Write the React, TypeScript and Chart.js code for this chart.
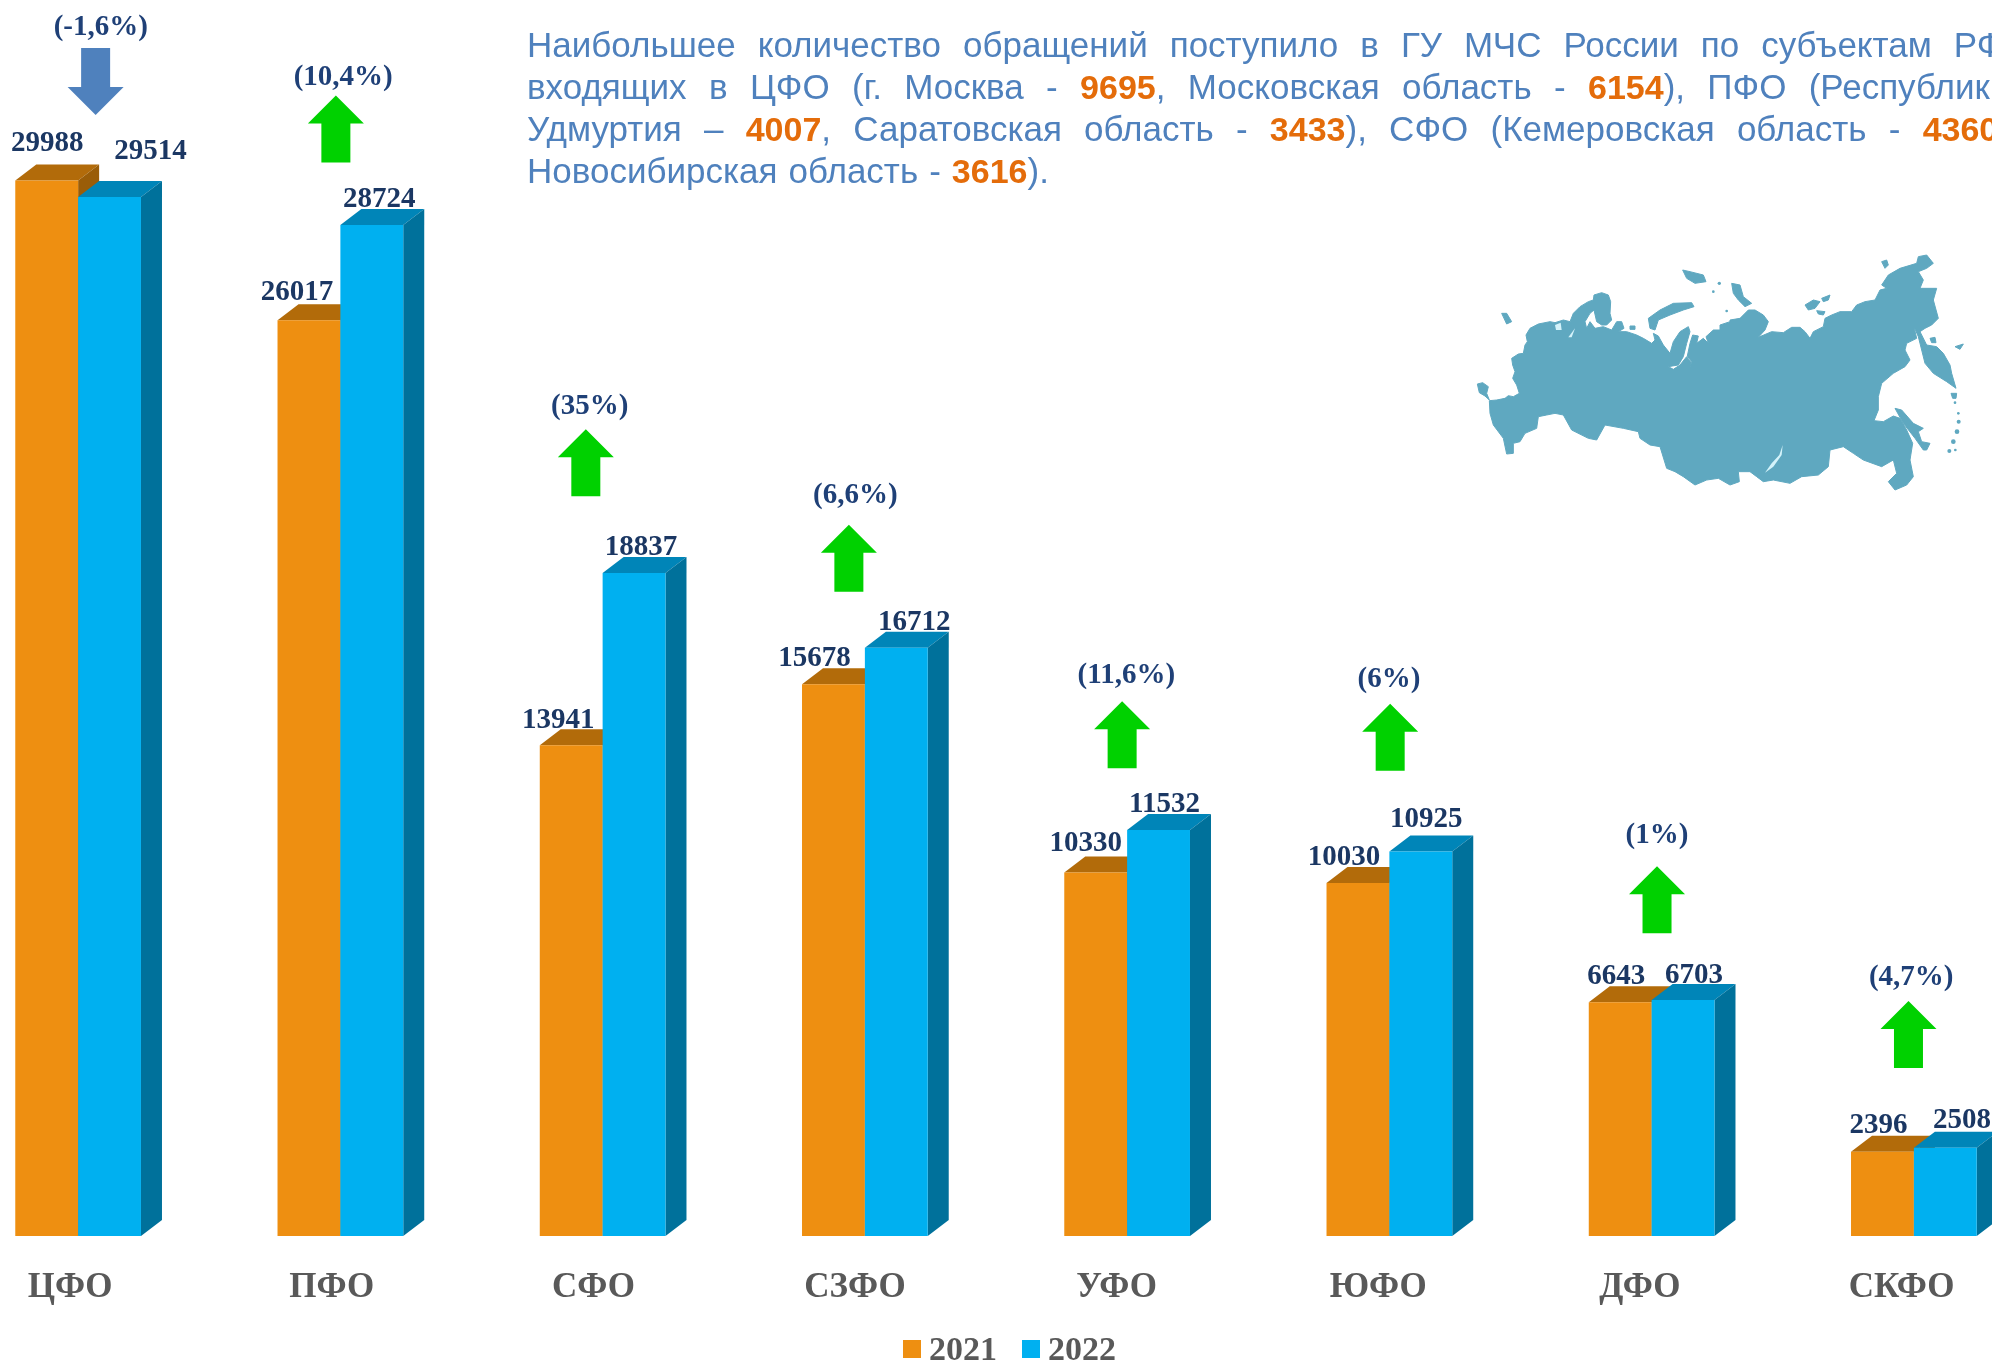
import React, { useEffect, useRef } from "react";
import { Chart, registerables } from "chart.js";

Chart.register(...registerables);

const categories = ["ЦФО", "ПФО", "СФО", "СЗФО", "УФО", "ЮФО", "ДФО", "СКФО"];
const years = ["2021", "2022"];
const values2021 = [29988, 26017, 13941, 15678, 10330, 10030, 6643, 2396];
const values2022 = [29514, 28724, 18837, 16712, 11532, 10925, 6703, 2508];
const changes = ["(-1,6%)", "(10,4%)", "(35%)", "(6,6%)", "(11,6%)", "(6%)", "(1%)", "(4,7%)"];
const directions = [-1, 1, 1, 1, 1, 1, 1, 1];

// placement offsets of the annotation texts, relative to the bars
const label2021Dx = [0.5, -12, -13, -19, -10, -14, -4, -4];
const label2021Dy = [-37, -28.1, -25, -26.1, -28.5, -25.5, -25.5, -26.2];
const label2022Dx = [41, 7.5, 7, 18, 6, 5.5, 11, 16.6];
const label2022Dy = [-46, -25.5, -25.5, -25.3, -26, -32.1, -24.5, -27.2];
const arrowDx = [17.5, -4.5, -16.8, -16, -5, 0.8, 5.4, -5.4];
const arrowDy = [-65.5, -129.3, -143.6, -123.1, -128.8, -147.7, -133.7, -146.7];
const changeDx = [22.7, 2.8, -12.9, -9.6, -0.8, -0.5, 5.4, -2.7];
const changeDy = [-153, -147.5, -166.5, -152.3, -154.6, -172, -164.6, -170.2];

const ORANGE = "#EE8F11";
const ORANGE_TOP = "#B26B0A";
const ORANGE_SIDE = "#9A5D08";
const BLUE = "#00B0F0";
const BLUE_TOP = "#0085B8";
const BLUE_SIDE = "#00719B";
const SERIF = '"Liberation Serif", serif';
const DEPTH_X = 21;
const DEPTH_Y = 16;
const TICK_DRIFT = 0.62;

const faces = [
  { top: ORANGE_TOP, side: ORANGE_SIDE },
  { top: BLUE_TOP, side: BLUE_SIDE },
];

function poly(ctx: CanvasRenderingContext2D, pts: number[][], color: string) {
  ctx.fillStyle = color;
  ctx.beginPath();
  pts.forEach((p, i) => (i ? ctx.lineTo(p[0], p[1]) : ctx.moveTo(p[0], p[1])));
  ctx.closePath();
  ctx.fill();
}

const bars3d = {
  id: "bars3d",
  beforeDatasetsDraw(chart: any) {
    const ctx: CanvasRenderingContext2D = chart.ctx;
    [0, 1].forEach((d) => {
      const meta = chart.getDatasetMeta(d);
      meta.data.forEach((bar: any) => {
        const l = bar.x - bar.width / 2;
        const r = bar.x + bar.width / 2;
        const t = bar.y;
        const b = bar.base;
        poly(ctx, [[l, t], [l + DEPTH_X, t - DEPTH_Y], [r + DEPTH_X, t - DEPTH_Y], [r, t]], faces[d].top);
        poly(ctx, [[r, t], [r + DEPTH_X, t - DEPTH_Y], [r + DEPTH_X, b - DEPTH_Y], [r, b]], faces[d].side);
      });
      meta.controller.draw();
    });
    return false;
  },
  afterDraw(chart: any) {
    const ctx: CanvasRenderingContext2D = chart.ctx;
    const y = chart.scales.y;
    ctx.save();
    ctx.textAlign = "center";
    ctx.textBaseline = "middle";
    const m0 = chart.getDatasetMeta(0).data;
    const m1 = chart.getDatasetMeta(1).data;
    categories.forEach((_, k) => {
      ctx.font = `bold 29px ${SERIF}`;
      ctx.fillStyle = "#1B3763";
      ctx.fillText(String(values2021[k]), m0[k].x + label2021Dx[k], m0[k].y + label2021Dy[k]);
      ctx.fillText(String(values2022[k]), m1[k].x + label2022Dx[k], m1[k].y + label2022Dy[k]);
      const cx = (m0[k].x + m1[k].x) / 2;
      const topY = y.getPixelForValue(Math.max(values2021[k], values2022[k]));
      ctx.fillStyle = "#1F4077";
      ctx.fillText(changes[k], cx + changeDx[k], topY + changeDy[k]);
      const tx = cx + arrowDx[k];
      const ty = topY + arrowDy[k];
      const s = directions[k]; // 1 = up, -1 = down
      poly(
        ctx,
        [
          [tx, ty],
          [tx + 28, ty + s * 28],
          [tx + 14.5, ty + s * 28],
          [tx + 14.5, ty + s * 67],
          [tx - 14.5, ty + s * 67],
          [tx - 14.5, ty + s * 28],
          [tx - 28, ty + s * 28],
        ],
        s > 0 ? "#00D100" : "#4F81BD",
      );
    });
    // legend
    ctx.textAlign = "left";
    ctx.textBaseline = "alphabetic";
    ctx.font = `bold 34px ${SERIF}`;
    const legendX = [956, 1075];
    chart.data.datasets.forEach((ds: any, i: number) => {
      ctx.fillStyle = ds.backgroundColor;
      ctx.fillRect(legendX[i], 1340, 18, 18);
      ctx.fillStyle = "#595959";
      ctx.fillText(ds.label, legendX[i] + 26, 1360);
    });
    ctx.restore();
  },
};

// silhouette of the map, in a 3x viewBox
const mapMain =
  "58,452 80,450 105,445 115,437 130,440 148,430 140,405 128,385 135,365 128,345 125,325 145,312 160,310 165,285 172,275 168,255 180,235 205,222 240,215 255,218 280,210 300,215 310,190 330,170 355,155 370,150 372,135 395,128 415,135 422,155 420,190 425,210 410,225 395,225 380,215 372,180 360,190 345,215 350,235 360,215 375,235 400,230 425,240 440,215 455,215 462,235 445,245 470,245 500,255 520,265 545,280 555,270 550,250 565,258 580,285 600,310 610,275 630,245 655,230 660,245 650,280 640,320 625,345 595,350 610,358 630,345 650,320 662,335 660,350 665,335 652,318 660,280 668,255 685,258 680,280 700,265 715,280 708,260 730,240 750,240 750,225 780,215 " +
  "780,210 810,205 835,180 855,180 880,195 895,215 885,240 865,262 905,245 940,248 965,232 990,232 1005,245 1020,265 1030,245 1060,230 1065,205 1085,195 1110,185 1145,185 1160,165 1185,155 1215,150 1230,120 1250,115 1235,105 1255,75 1290,55 1340,40 1345,20 1370,15 1390,40 1370,55 1345,65 1360,90 1350,115 1400,115 1390,150 1405,205 1385,225 1365,235 1350,245 1370,285 1400,290 1420,310 1440,345 1445,370 1458,415 1430,395 1390,370 1365,340 1355,300 1345,260 1332,230 1340,265 1310,280 1305,300 1320,330 1305,350 1270,370 1235,400 1225,440 1225,480 1212,512 1240,515 1270,498 1290,505 1310,540 1328,580 1320,630 1330,680 1310,705 1275,720 1255,695 1280,670 1270,630 1235,650 1180,630 1150,610 1120,590 1080,600 1075,650 1045,675 995,680 960,700 910,690 880,695 860,680 840,665 805,665 808,695 780,705 " +
  "745,685 710,690 675,705 640,680 615,665 590,655 570,590 540,585 510,565 505,545 460,535 405,525 380,570 355,565 305,540 280,495 255,490 230,495 205,500 200,535 165,550 150,575 130,580 130,610 110,612 100,565 70,525 60,490";
const mapIslands = [
  "22,402 38,398 55,410 50,430 58,450 45,438 28,428",
  "95,190 110,190 125,215 110,222",
  "535,205 570,180 610,160 665,158 672,170 640,180 600,195 565,210 555,240 540,235",
  "638,60 660,65 700,75 708,95 675,100 650,85",
  "480,228 495,228 495,238 480,238",
  "785,100 810,105 820,140 845,160 825,170 805,150 790,130",
  "1005,165 1030,150 1050,155 1035,175 1015,180",
  "1055,145 1080,135 1075,150 1060,155",
  "1040,182 1065,185 1060,195 1045,192",
  "1235,35 1250,30 1255,45 1245,55",
  "1275,475 1295,480 1330,520 1360,535 1345,545 1355,575 1380,580 1370,600 1360,600 1335,565 1300,520",
  "1380,265 1395,262 1398,278 1385,278",
  "1455,290 1480,282 1470,298",
  "1443,430 1460,430 1458,445 1448,445",
];
const mapDots = [
  [1455, 458, 4],
  [1465, 490, 4],
  [1466, 515, 6],
  [1461, 545, 7],
  [1450, 575, 7],
  [1438, 603, 6],
  [1456, 600, 4],
  [748, 100, 5],
  [730, 125, 4],
  [770, 183, 4],
];
const mapLakes = [
  "255,225 272,218 275,240 258,240",
  "295,262 315,235 305,262",
  "938,585 935,615 910,650 885,668 905,640 928,615",
];

const lineStyle = (width: number) => ({
  display: "block",
  width,
  textAlign: "justify" as const,
  textAlignLast: "justify" as const,
  whiteSpace: "nowrap" as const,
  height: 42,
});

const Num = ({ children }: { children: React.ReactNode }) => (
  <b style={{ color: "#E46C0A", fontSize: 34 }}>{children}</b>
);

export default function App() {
  const ref = useRef<HTMLCanvasElement>(null);
  useEffect(() => {
    const chart = new Chart(ref.current as HTMLCanvasElement, {
      type: "bar",
      data: {
        labels: categories,
        datasets: [
          { label: years[0], data: values2021, backgroundColor: ORANGE },
          { label: years[1], data: values2022, backgroundColor: BLUE },
        ],
      },
      options: {
        animation: false,
        responsive: false,
        devicePixelRatio: 1,
        events: [],
        layout: { padding: { top: 4, left: 0, right: 0, bottom: 0 } },
        datasets: { bar: { categoryPercentage: 0.4805, barPercentage: 1 } },
        plugins: { legend: { display: false }, tooltip: { enabled: false }, title: { display: false } },
        scales: {
          x: {
            grid: { display: false, drawTicks: false },
            border: { display: false },
            afterFit: (s: any) => {
              s.height = 127;
              const base = s.getPixelForTick.bind(s);
              s.getPixelForTick = (i: number) => base(i) - i * TICK_DRIFT;
            },
            ticks: {
              padding: 31,
              labelOffset: -8,
              maxRotation: 0,
              autoSkip: false,
              color: "#595959",
              font: { family: SERIF, size: 35, weight: "bold" },
            },
          },
          y: { display: false, min: 0, max: 35000 },
        },
      },
      plugins: [bars3d],
    } as any);
    return () => chart.destroy();
  }, []);

  return (
    <div
      style={{
        position: "absolute",
        left: 0,
        top: 0,
        width: 1992,
        height: 1363,
        overflow: "hidden",
        background: "#fff",
      }}
    >
      <canvas
        ref={ref}
        width={2098}
        height={1363}
        style={{ position: "absolute", left: -53, top: 0, width: 2098, height: 1363 }}
      />
      <svg
        viewBox="0 0 1566 750"
        style={{ position: "absolute", left: 1470, top: 250, width: 522, height: 250 }}
      >
        <defs>
          <filter id="soft">
            <feGaussianBlur stdDeviation="1.5" />
          </filter>
        </defs>
        <g filter="url(#soft)">
          <g fill="#5FA8C0" stroke="#5FA8C0" strokeWidth={3} strokeLinejoin="round">
            <polygon points={mapMain} />
            {mapIslands.map((p, i) => (
              <polygon key={i} points={p} />
            ))}
            {mapDots.map((d, i) => (
              <circle key={i} cx={d[0]} cy={d[1]} r={d[2]} stroke="none" />
            ))}
          </g>
          {mapLakes.map((p, i) => (
            <polygon key={i} points={p} fill="#D4F3FA" />
          ))}
        </g>
      </svg>
      <div
        style={{
          position: "absolute",
          left: 527,
          top: 24,
          color: "#4F81BD",
          fontFamily: '"Liberation Sans", sans-serif',
          fontSize: 35,
          lineHeight: "42px",
        }}
      >
        <span style={lineStyle(1486)}>Наибольшее количество обращений поступило в ГУ МЧС России по субъектам РФ,</span>
        <span style={lineStyle(1483)}>
          входящих в ЦФО (г. Москва - <Num>9695</Num>, Московская область - <Num>6154</Num>), ПФО (Республика
        </span>
        <span style={lineStyle(1481)}>
          Удмуртия – <Num>4007</Num>, Саратовская область - <Num>3433</Num>), СФО (Кемеровская область - <Num>4360</Num>,
        </span>
        <span style={{ display: "block", whiteSpace: "nowrap", height: 42, wordSpacing: 1.3 }}>
          Новосибирская область - <Num>3616</Num>).
        </span>
      </div>
    </div>
  );
}
